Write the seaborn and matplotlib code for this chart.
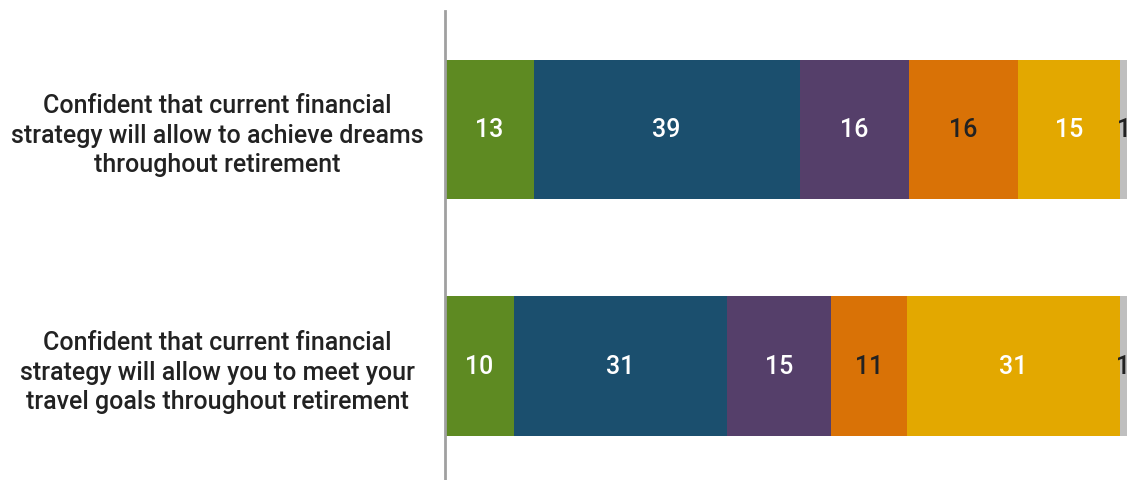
import matplotlib
matplotlib.use("Agg")
import matplotlib.pyplot as plt
import seaborn as sns
import pandas as pd
import numpy as np

sns.set_theme(style="white")
plt.rcParams["font.family"] = ["Roboto", "DejaVu Sans"]

statements = [
    "Confident that current financial\nstrategy will allow to achieve dreams\nthroughout retirement",
    "Confident that current financial\nstrategy will allow you to meet your\ntravel goals throughout retirement",
]
segment_names = ["s1", "s2", "s3", "s4", "s5", "s6"]
values_row1 = [13, 39, 16, 16, 15, 1]
values_row2 = [10, 31, 15, 11, 31, 1]
colors = ["#5E8A22", "#1B4F6E", "#553F6A", "#D97206", "#E3A800", "#BFBFBF"]
label_colors = ["white", "white", "white", "#222222", "white", "#222222"]

vals = np.array([values_row1, values_row2], dtype=float)
# each bar spans the full width (shares of the row total)
shares = vals / vals.sum(axis=1, keepdims=True)
cum = shares.cumsum(axis=1)

fig = plt.figure(figsize=(11.28, 4.81), dpi=100)
ax = fig.add_axes([445 / 1128, 0.0, 682 / 1128, 469 / 481])

# Stacked bars: draw cumulative totals from the right-most segment inward
for j in range(len(segment_names) - 1, -1, -1):
    df = pd.DataFrame({"statement": statements, "total": cum[:, j]})
    sns.barplot(data=df, x="total", y="statement", orient="h",
                color=colors[j], saturation=1, width=0.59, ax=ax,
                edgecolor="none", linewidth=0)

for i in range(len(statements)):
    for j in range(len(segment_names)):
        start = cum[i, j] - shares[i, j]
        xpos = start + shares[i, j] / 2
        ax.text(xpos, i, f"{int(vals[i, j])}", ha="center", va="center",
                color=label_colors[j], fontsize=18, fontweight="medium")

ax.set_xlim(0, 1)
ax.set_ylim(1.48, -0.50)
ax.set_xlabel("")
ax.set_ylabel("")
ax.set_xticks([])
for s in ["top", "right", "bottom"]:
    ax.spines[s].set_visible(False)
ax.spines["left"].set_color("#A0A0A0")
ax.spines["left"].set_linewidth(2)
ax.tick_params(axis="y", length=0, pad=164)
for lbl in ax.get_yticklabels():
    lbl.set_ha("center")
    lbl.set_fontsize(18)
    lbl.set_fontweight("medium")
    lbl.set_color("#222222")
    lbl.set_linespacing(1.3)

fig.savefig("out.png", dpi=100)
